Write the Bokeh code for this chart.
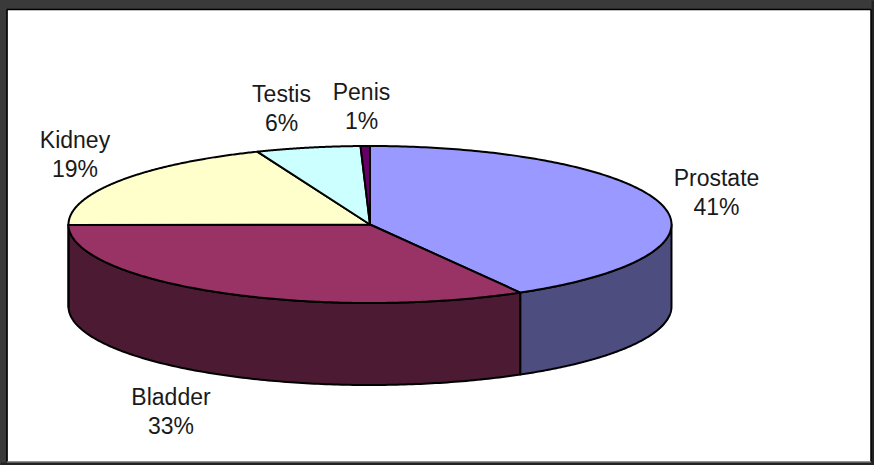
import numpy as np
from bokeh.plotting import figure
from bokeh.core.properties import value
from bokeh.embed import file_html
from bokeh.resources import INLINE

categories = ["Prostate", "Bladder", "Kidney", "Testis", "Penis"]
shares = [41.7, 33.2, 19.0, 5.6, 0.5]
percent_labels = ["41%", "33%", "19%", "6%", "1%"]
top_colors = ["#9999FF", "#993366", "#FFFFCC", "#CCFFFF", "#660066"]
side_colors = ["#4D4D80", "#4D1A33", "#808066", "#668080", "#330033"]
label_x = [716, 170.5, 74.5, 281, 361]
label_y = [177, 396, 139, 93, 91]

CX, CY, RX, RY, DEPTH = 369.5, 224.0, 301.5, 78.5, 82.0
LINE_GAP = 29.5

W, H = 874, 465
p = figure(width=W, height=H, x_range=(0, W), y_range=(H, 0), output_backend="svg",
           toolbar_location=None, min_border=0, outline_line_color=None,
           background_fill_color="#3A3A3A", border_fill_color="#3A3A3A")
p.axis.visible = False
p.grid.visible = False

# frame
p.quad(left=[871, 0], right=[W, W], top=[0, 462], bottom=[H, H], fill_color="#222222", line_color=None)
p.quad(left=[7], right=[870.5], top=[9.5], bottom=[461], fill_color="white", line_color=None)
p.line([6.5, 6.5, 870.5, 870.5], [461, 9, 9, 461], line_color="black", line_width=1.5)
p.line([6.5, 870.5], [461.5, 461.5], line_color="#888888", line_width=1)


def pt(theta):
    return CX + RX * np.sin(theta), CY - RY * np.cos(theta)


edges = np.radians(np.concatenate([[0], np.cumsum(shares)]) * 3.6)

# side wall: only the front half (90 to 270 degrees of clockwise sweep) is visible
for i in range(len(shares)):
    a = max(edges[i], np.pi / 2)
    b = min(edges[i + 1], 3 * np.pi / 2)
    if b <= a:
        continue
    t = np.linspace(a, b, 160)
    x, y = pt(t)
    xs = np.concatenate([x, x[::-1]])
    ys = np.concatenate([y, (y + DEPTH)[::-1]])
    p.patch(xs, ys, fill_color=side_colors[i], line_color="black", line_width=2, line_join="round")

# top face
for i in range(len(shares)):
    t = np.linspace(edges[i], edges[i + 1], 200)
    x, y = pt(t)
    xs = np.concatenate([[CX], x])
    ys = np.concatenate([[CY], y])
    p.patch(xs, ys, fill_color=top_colors[i], line_color="black", line_width=2, line_join="round")

# labels
for name, pct, lx, ly in zip(categories, percent_labels, label_x, label_y):
    p.text([lx, lx], [ly, ly + LINE_GAP], text=[name, pct], text_font=value("Liberation Sans"),
           text_font_size="23px", text_color="#1A1A1A", text_align="center", text_baseline="middle")

html = file_html(p, INLINE)
html = html.replace("<head>", "<head><style>html,body{margin:0;padding:0;background:#3A3A3A;overflow:hidden}</style>", 1)
open("out.html", "w").write(html)
